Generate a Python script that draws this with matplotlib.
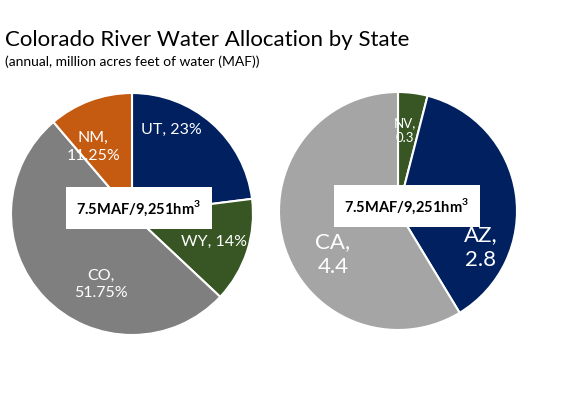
import matplotlib
matplotlib.use("Agg")
import matplotlib.pyplot as plt
import numpy as np

plt.rcParams['font.family'] = ['Lato', 'DejaVu Sans']
plt.rcParams['mathtext.fontset'] = 'custom'
plt.rcParams['mathtext.bf'] = 'Lato:bold'
plt.rcParams['mathtext.rm'] = 'Lato:bold'

# left pie: share of allocation (%)
states_l = ["UT", "WY", "CO", "NM"]
pct_l = [23, 14, 51.75, 11.25]
labels_l = ["UT, 23%", "WY, 14%", "CO,\n51.75%", "NM,\n11.25%"]
colors_l = ["#002060", "#375623", "#7F7F7F", "#C55A11"]

# right pie: lower basin (MAF)
states_r = ["NV", "AZ", "CA"]
maf_r = [0.3, 2.8, 4.4]
labels_r = ["NV,\n0.3", "AZ,\n2.8", "CA,\n4.4"]
colors_r = ["#375623", "#002060", "#A5A5A5"]

total_label = r"7.5MAF/9,251hm$^{\mathbf{3}}$"

W, H = 578, 393
fig = plt.figure(figsize=(W / 100, H / 100), dpi=100)
ax = fig.add_axes([0, 0, 1, 1])

def draw_pie(vals, colors, labels, center, radius, lab_pos, sizes):
    wedges, _ = ax.pie(vals, colors=colors, startangle=90, counterclock=False,
                       center=center, radius=radius,
                       wedgeprops=dict(edgecolor='white', linewidth=1.5))
    for lab, (ang, rr), fs in zip(labels, lab_pos, sizes):
        a = np.deg2rad(ang)
        ax.text(center[0] + rr * radius * np.cos(a), center[1] + rr * radius * np.sin(a),
                lab, color='white', ha='center', va='center', fontsize=fs,
                linespacing=1.3)

c_l = (132, H - 214)
draw_pie(pct_l, colors_l, labels_l, c_l, 121,
         [(65, 0.77), (-19, 0.72), (246, 0.64), (120, 0.64)], [11.5] * 4)

c_r = (398, H - 211)
draw_pie(maf_r, colors_r, labels_r, c_r, 119,
         [(85, 0.68), (-24, 0.76), (214, 0.66)], [9.5, 16, 16])

ax.set_xlim(0, W)
ax.set_ylim(0, H)
ax.set_aspect('equal')
ax.axis('off')

for cx, cy in [(139, H - 208), (407, H - 206)]:
    ax.text(cx, cy, total_label, ha='center', va='center', fontsize=10.5,
            fontweight='bold', color='black',
            bbox=dict(boxstyle='square,pad=0.75', facecolor='white', edgecolor='none'))

fig.text(5 / W, 1 - 40 / H, "Colorado River Water Allocation by State",
         fontsize=16, ha='left', va='center')
fig.text(5 / W, 1 - 62 / H, "(annual, million acres feet of water (MAF))",
         fontsize=10, ha='left', va='center')

fig.savefig("out.png", dpi=100)
